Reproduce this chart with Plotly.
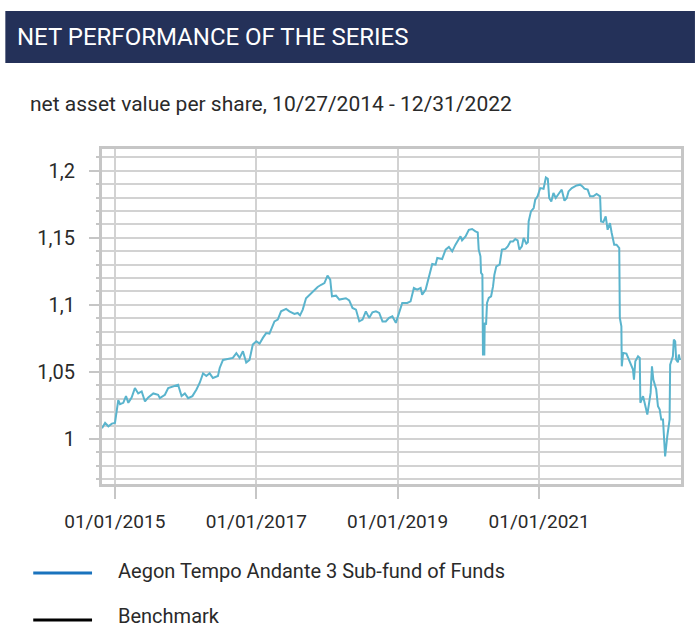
import plotly.graph_objects as go

# ---------------- data ----------------
dates = [
    "2014-10-27", "2014-11-12", "2014-11-29", "2014-12-17", "2015-01-02",
    "2015-01-11", "2015-01-19", "2015-01-28", "2015-02-14", "2015-02-28",
    "2015-03-12", "2015-03-29", "2015-04-15", "2015-05-02", "2015-05-20",
    "2015-06-06", "2015-06-23", "2015-07-19", "2015-08-13", "2015-08-22",
    "2015-09-17", "2015-10-04", "2015-10-30", "2015-11-24", "2015-12-12",
    "2015-12-29", "2016-01-15", "2016-02-06", "2016-02-27", "2016-03-15",
    "2016-04-01", "2016-04-18", "2016-05-05", "2016-05-22", "2016-06-17",
    "2016-06-26", "2016-07-13", "2016-08-08", "2016-09-02", "2016-09-20",
    "2016-10-07", "2016-10-24", "2016-11-10", "2016-11-27", "2016-12-06",
    "2016-12-14", "2017-01-01", "2017-01-18", "2017-02-04", "2017-02-21",
    "2017-03-10", "2017-03-27", "2017-04-05", "2017-04-22", "2017-05-09",
    "2017-06-04", "2017-06-21", "2017-07-17", "2017-08-03", "2017-08-15",
    "2017-08-29", "2017-09-15", "2017-10-02", "2017-10-28", "2017-11-14",
    "2017-12-02", "2017-12-19", "2018-01-04", "2018-01-18", "2018-01-27",
    "2018-02-17", "2018-03-06", "2018-03-23", "2018-04-09", "2018-04-26",
    "2018-05-13", "2018-05-31", "2018-06-17", "2018-07-04", "2018-07-21",
    "2018-08-07", "2018-08-24", "2018-09-11", "2018-09-28", "2018-10-15",
    "2018-11-01", "2018-11-18", "2018-12-05", "2018-12-23", "2019-01-08",
    "2019-01-25", "2019-02-20", "2019-03-09", "2019-03-26", "2019-04-12",
    "2019-04-30", "2019-05-08", "2019-05-26", "2019-06-12", "2019-06-29",
    "2019-07-16", "2019-07-25", "2019-08-19", "2019-09-06", "2019-09-23",
    "2019-10-10", "2019-10-27", "2019-11-13", "2019-11-22", "2019-11-30",
    "2019-12-18", "2020-01-04", "2020-01-21", "2020-02-07", "2020-02-19",
    "2020-02-24", "2020-03-04", "2020-03-07", "2020-03-14", "2020-03-17",
    "2020-03-24", "2020-03-26", "2020-04-02", "2020-04-07", "2020-04-16",
    "2020-04-28", "2020-05-08", "2020-05-15", "2020-05-25", "2020-06-11",
    "2020-06-23", "2020-07-11", "2020-07-23", "2020-08-06", "2020-08-19",
    "2020-08-31", "2020-09-12", "2020-09-21", "2020-10-04", "2020-10-13",
    "2020-10-27", "2020-11-04", "2020-11-08", "2020-11-20", "2020-12-04",
    "2020-12-12", "2020-12-24", "2021-01-07", "2021-01-24", "2021-02-05",
    "2021-02-15", "2021-02-22", "2021-03-05", "2021-03-16", "2021-03-28",
    "2021-04-15", "2021-04-28", "2021-05-12", "2021-05-24", "2021-06-02",
    "2021-06-19", "2021-07-14", "2021-08-01", "2021-08-13", "2021-08-23",
    "2021-09-09", "2021-09-21", "2021-10-08", "2021-10-25", "2021-11-12",
    "2021-11-17", "2021-11-29", "2021-12-11", "2021-12-21", "2022-01-02",
    "2022-01-11", "2022-01-24", "2022-02-05", "2022-02-19", "2022-02-22",
    "2022-03-02", "2022-03-04", "2022-03-11", "2022-03-28", "2022-04-09",
    "2022-04-19", "2022-05-01", "2022-05-06", "2022-05-13", "2022-05-27",
    "2022-06-05", "2022-06-08", "2022-06-22", "2022-06-30", "2022-07-14",
    "2022-07-22", "2022-07-31", "2022-08-07", "2022-08-14", "2022-08-29",
    "2022-09-07", "2022-09-16", "2022-09-24", "2022-10-03", "2022-10-08",
    "2022-10-14", "2022-10-25", "2022-11-06", "2022-11-09", "2022-11-23",
    "2022-11-28", "2022-12-05", "2022-12-10", "2022-12-19", "2022-12-24",
    "2022-12-29", "2022-12-31",
]

nav_values = [
    1.008, 1.012, 1.0095, 1.0115, 1.012,
    1.022, 1.029, 1.026, 1.027, 1.032,
    1.027, 1.031, 1.038, 1.034, 1.0355,
    1.028, 1.031, 1.034, 1.033, 1.0305,
    1.033, 1.038, 1.039, 1.0405, 1.032,
    1.034, 1.0305, 1.032, 1.037, 1.042,
    1.049, 1.047, 1.049, 1.0455, 1.047,
    1.053, 1.059, 1.0597, 1.0605, 1.064,
    1.0605, 1.0655, 1.057, 1.059, 1.0665,
    1.0704, 1.0728, 1.0711, 1.0754, 1.079,
    1.0786, 1.084, 1.0877, 1.089, 1.0952,
    1.097, 1.0952, 1.0933, 1.094, 1.0922,
    1.0965, 1.105, 1.1076, 1.1114, 1.1134,
    1.115, 1.1163, 1.1218, 1.1188, 1.1064,
    1.1069, 1.104, 1.1044, 1.105, 1.1034,
    1.0977, 1.0965, 1.0877, 1.089, 1.0952,
    1.0903, 1.0945, 1.0952, 1.094, 1.0877,
    1.0877, 1.0903, 1.0915, 1.0866, 1.094,
    1.1015, 1.1015, 1.1026, 1.1126, 1.1114,
    1.1126, 1.1076, 1.1114, 1.12, 1.1305,
    1.13, 1.135, 1.1342, 1.1412, 1.1432,
    1.1399, 1.1449, 1.1486, 1.1511, 1.1481,
    1.1511, 1.156, 1.1566, 1.1548, 1.154,
    1.1412, 1.1362, 1.1238, 1.1225, 1.063,
    1.063, 1.0866, 1.0853, 1.1015, 1.1052,
    1.1064, 1.1138, 1.1225, 1.1287, 1.13,
    1.1412, 1.1417, 1.1436, 1.1473, 1.1473,
    1.1491, 1.1481, 1.1412, 1.1436, 1.1499,
    1.1456, 1.1466, 1.1622, 1.1697, 1.1722,
    1.1784, 1.1809, 1.1871, 1.1866, 1.195,
    1.194, 1.1797, 1.1771, 1.1834, 1.1797,
    1.1834, 1.1859, 1.1777, 1.1797, 1.1846,
    1.1871, 1.189, 1.1896, 1.1883, 1.1866,
    1.1859, 1.1809, 1.1809, 1.1827, 1.1809,
    1.1622, 1.1618, 1.166, 1.156, 1.161,
    1.1536, 1.1449, 1.1449, 1.1424, 1.0903,
    1.084, 1.0542, 1.0642, 1.0637, 1.0592,
    1.0555, 1.0518, 1.0443, 1.058, 1.0617,
    1.0605, 1.027, 1.032, 1.027, 1.0183,
    1.0257, 1.0344, 1.0542, 1.0443, 1.0369,
    1.0244, 1.022, 1.0145, 1.0145, 0.9996,
    0.987, 1.002, 1.0145, 1.0555, 1.0617,
    1.0741, 1.0728, 1.0592, 1.0572, 1.063,
    1.0592, 1.06,
]

x_tick_vals = ["2015-01-01", "2017-01-01", "2019-01-01", "2021-01-01"]
x_tick_text = ["01/01/2015", "01/01/2017", "01/01/2019", "01/01/2021"]
y_tick_vals = [1.0, 1.05, 1.1, 1.15, 1.2]
y_tick_text = ["1", "1,05", "1,1", "1,15", "1,2"]

title_text = "NET PERFORMANCE OF THE SERIES"
subtitle_text = "net asset value per share, 10/27/2014 - 12/31/2022"
series_names = ["Aegon Tempo Andante 3 Sub-fund of Funds", "Benchmark"]
legend_colors = ["#1a73bd", "#000000"]

# ---------------- layout helpers ----------------
W, H = 696, 628
ML, MR, MT, MB = 102, 13, 149, 144
PW, PH = W - ML - MR, H - MT - MB


def px(x):
    return (x - ML) / PW


def py(y):
    return (H - MB - y) / PH


FONT = "Roboto"
GRID = "#d2d2d2"
AXIS = "#c6c6c6"
TXT = "#2a2a2a"

fig = go.Figure()
fig.add_trace(go.Scatter(
    x=dates, y=nav_values, mode="lines",
    line=dict(color="#5ab4cd", width=2),
    showlegend=False, hoverinfo="skip",
))

shapes = [
    dict(type="rect", xref="paper", yref="paper",
         x0=px(5), x1=px(697), y0=py(63), y1=py(11),
         fillcolor="#243159", line=dict(width=0), layer="above"),
]
annotations = [
    dict(text=title_text, xref="paper", yref="paper", x=px(15), y=py(37),
         xanchor="left", yanchor="middle", showarrow=False,
         font=dict(family=FONT, size=24, color="white")),
    dict(text=subtitle_text, xref="paper", yref="paper", x=px(28), y=py(104),
         xanchor="left", yanchor="middle", showarrow=False,
         font=dict(family=FONT, size=21, color=TXT)),
]
legend_line_y = [573, 620]
legend_text_y = [571, 616]
for name, col, ly, ty in zip(series_names, legend_colors, legend_line_y, legend_text_y):
    shapes.append(dict(type="line", xref="paper", yref="paper",
                       x0=px(33), x1=px(92), y0=py(ly), y1=py(ly),
                       line=dict(color=col, width=3)))
    annotations.append(dict(text=name, xref="paper", yref="paper",
                            x=px(116), y=py(ty), xanchor="left",
                            yanchor="middle", showarrow=False,
                            font=dict(family=FONT, size=20, color=TXT)))

fig.update_layout(
    width=W, height=H,
    margin=dict(l=ML, r=MR, t=MT, b=MB, pad=0),
    paper_bgcolor="white", plot_bgcolor="white",
    font=dict(family=FONT, color=TXT),
    shapes=shapes, annotations=annotations,
    xaxis=dict(
        type="date", range=["2014-10-27", "2023-01-04"],
        tickmode="array", tickvals=x_tick_vals, ticktext=x_tick_text,
        showgrid=True, gridcolor=GRID, gridwidth=2,
        showline=True, linecolor=AXIS, linewidth=3, mirror=True,
        ticks="outside", ticklen=12, tickwidth=2, tickcolor=AXIS,
        tickfont=dict(family=FONT, size=19, color=TXT),
        ticklabelstandoff=6, zeroline=False,
    ),
    yaxis=dict(
        range=[0.9665, 1.2162],
        tickmode="array", tickvals=y_tick_vals, ticktext=y_tick_text,
        showgrid=True, gridcolor=GRID, gridwidth=2,
        showline=True, linecolor=AXIS, linewidth=3, mirror=True,
        ticks="outside", ticklen=10, tickwidth=2, tickcolor=AXIS,
        tickfont=dict(family=FONT, size=20, color=TXT),
        ticklabelstandoff=10, zeroline=False,
        minor=dict(dtick=0.01, tick0=1.0, showgrid=True, gridcolor=GRID,
                   gridwidth=2, ticks="outside", ticklen=3,
                   tickcolor=AXIS, tickwidth=2),
    ),
)

fig.write_html(
    "out.html",
    config={"displayModeBar": False, "staticPlot": True},
    post_script="document.body.style.margin='0';document.body.style.overflow='hidden';",
)
